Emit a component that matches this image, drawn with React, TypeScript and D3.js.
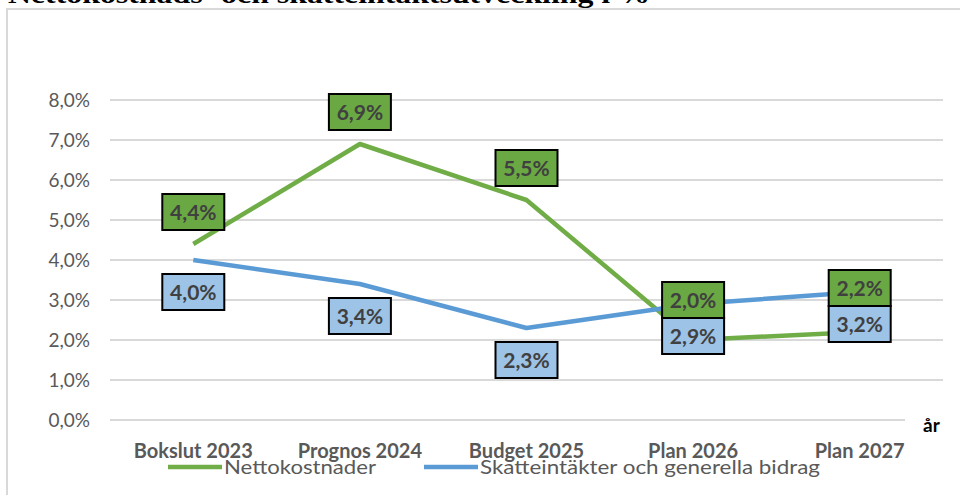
import * as d3 from 'd3'

const categories = ['Bokslut 2023', 'Prognos 2024', 'Budget 2025', 'Plan 2026', 'Plan 2027']
const nettokostnader = [4.4, 6.9, 5.5, 2.0, 2.2]
const skatteintakter = [4.0, 3.4, 2.3, 2.9, 3.2]
const seriesNames = ['Nettokostnader', 'Skatteintäkter och generella bidrag']
const yTicks = [0, 1, 2, 3, 4, 5, 6, 7, 8]
const title = 'Nettokostnads- och skatteintäktsutveckling i %'

const width = 960
const height = 495
const plot = { left: 110, right: 943, top: 100, bottom: 420 }

const green = '#70ad47'
const greenFill = '#6aa843'
const blue = '#5b9bd5'
const blueFill = '#9dc3e6'
const font = 'Lato, "Open Sans", sans-serif'

const sv = d3.formatLocale({ decimal: ',', thousands: ' ', grouping: [3], currency: ['', ' kr'] })
const pct = (v: number) => sv.format('.1f')(v) + '%'

export default function App() {
  const x = d3.scaleBand<string>().domain(categories).range([plot.left, plot.right])
  const cx = (c: string) => (x(c) || 0) + x.bandwidth() / 2
  const y = d3.scaleLinear().domain([0, 8]).range([plot.bottom, plot.top])

  const line = d3.line<number>()
    .x((_, i) => cx(categories[i]))
    .y(d => y(d))

  // label placement: green above, blue below, push green up when boxes collide
  const boxW = 62
  const boxH = 36
  const labels = categories.map((c, i) => {
    const yb = y(skatteintakter[i]) + 32
    let yg = y(nettokostnader[i]) - 32
    if (yg > yb - boxH) yg = yb - boxH
    return { x: cx(c), yg, yb, g: nettokostnader[i], b: skatteintakter[i] }
  })

  const legendItems = [
    { name: seriesNames[0], color: green, x: 168, w: 152 },
    { name: seriesNames[1], color: blue, x: 424, w: 340 }
  ]

  return (
    <svg width={width} height={height} style={{ position: 'absolute', left: 0, top: 0 }}>
      <rect width={width} height={height} fill="#fff" />
      <text x={8} y={3} fontFamily='"Liberation Serif", serif' fontWeight="bold" fontSize={26}
        textLength={642} lengthAdjust="spacingAndGlyphs" fill="#000">{title}</text>
      <path d={`M7,${height} V9 H${width}`} fill="none" stroke="#d9d9d9" strokeWidth={2} />

      {yTicks.map(t => (
        <g key={t}>
          <line x1={plot.left} x2={t === 0 ? 905 : plot.right} y1={y(t)} y2={y(t)}
            stroke="#d9d9d9" strokeWidth={2} />
          <text x={90} y={y(t)} dy="0.35em" textAnchor="end" fontFamily={font}
            fontSize={19} fill="#595959">{pct(t)}</text>
        </g>
      ))}

      {categories.map(c => (
        <text key={c} x={cx(c)} y={458} textAnchor="middle" fontFamily={font}
          fontWeight="bold" fontSize={20} fill="#595959">{c}</text>
      ))}
      <text x={923} y={432} fontFamily={font} fontWeight="bold" fontSize={19} fill="#000">år</text>

      <path d={line(nettokostnader) || ''} fill="none" stroke={green} strokeWidth={4.5} strokeLinejoin="round" />
      <path d={line(skatteintakter) || ''} fill="none" stroke={blue} strokeWidth={4.5} strokeLinejoin="round" />

      {labels.map((l, i) => (
        <g key={i} fontFamily={font} fontWeight="bold" fontSize={21} fill="#404040">
          <rect x={l.x - boxW / 2} y={l.yb - boxH / 2} width={boxW} height={boxH}
            fill={blueFill} stroke="#000" strokeWidth={2} />
          <text x={l.x} y={l.yb} dy="0.36em" textAnchor="middle">{pct(l.b)}</text>
          <rect x={l.x - boxW / 2} y={l.yg - boxH / 2} width={boxW} height={boxH}
            fill={greenFill} stroke="#000" strokeWidth={2} />
          <text x={l.x} y={l.yg} dy="0.36em" textAnchor="middle">{pct(l.g)}</text>
        </g>
      ))}

      {legendItems.map(d => (
        <g key={d.name}>
          <line x1={d.x} x2={d.x + 54} y1={467} y2={467} stroke={d.color} strokeWidth={4.5} />
          <text x={d.x + 56} y={474} fontFamily={font} fontSize={20} fill="#595959"
            textLength={d.w} lengthAdjust="spacingAndGlyphs">{d.name}</text>
        </g>
      ))}
    </svg>
  )
}
